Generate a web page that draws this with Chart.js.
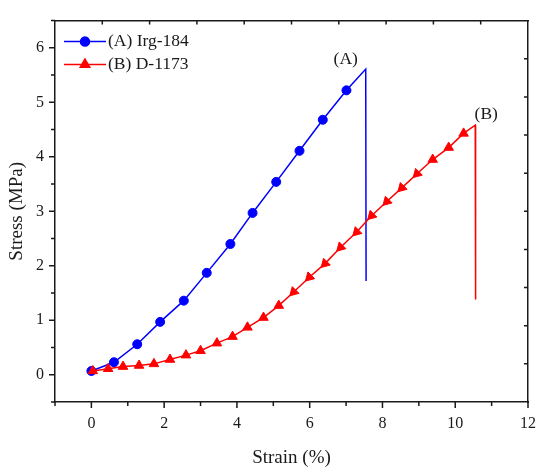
<!DOCTYPE html>
<html>
<head>
<meta charset="utf-8">
<script src="https://cdn.jsdelivr.net/npm/chart.js@4.4.1/dist/chart.umd.min.js"></script>
<style>
html,body{margin:0;padding:0;background:#fff;}
#wrap{width:550px;height:473px;position:relative;}
</style>
</head>
<body>
<div id="wrap"><canvas id="c"></canvas></div>
<script>
// ---- data ----
const strainA = [0, 0.62, 1.26, 1.89, 2.54, 3.17, 3.82, 4.43, 5.08, 5.72, 6.36, 7.01, 7.54, 7.55];
const stressA = [0.07, 0.23, 0.56, 0.97, 1.36, 1.87, 2.40, 2.97, 3.54, 4.11, 4.68, 5.22, 5.61, 1.72];
const strainB = [0.04, 0.46, 0.87, 1.31, 1.72, 2.16, 2.60, 3.00, 3.45, 3.88, 4.29, 4.73, 5.15, 5.56, 5.99, 6.42, 6.85, 7.29, 7.70, 8.12, 8.53, 8.95, 9.38, 9.82, 10.23, 10.55, 10.56];
const stressB = [0.07, 0.11, 0.15, 0.17, 0.20, 0.28, 0.36, 0.44, 0.58, 0.70, 0.87, 1.05, 1.27, 1.52, 1.79, 2.04, 2.34, 2.62, 2.92, 3.18, 3.43, 3.69, 3.95, 4.17, 4.43, 4.58, 1.38];
const seriesLabels = ['(A) Irg-184', '(B) D-1173'];
const peakLabels = ['(A)', '(B)'];
const xTitle = 'Strain (%)';
const yTitle = 'Stress (MPa)';

const FONT = 'Liberation Serif';
const INK = '#1a1a1a';
const BLUE = '#0000ff';
const RED = '#ff0000';

function pts(xs, ys){ return xs.map((x,i)=>({x:x, y:ys[i]})); }

function triRotation(ctx){
  const i = ctx.dataIndex, ch = ctx.chart;
  const xs = ch.scales.x, ys = ch.scales.y;
  if (!xs || !ys) return 0;
  const i0 = Math.max(0, i-1), i1 = Math.min(strainB.length-1, i+1);
  const dx = xs.getPixelForValue(strainB[i1]) - xs.getPixelForValue(strainB[i0]);
  const dy = ys.getPixelForValue(stressB[i0]) - ys.getPixelForValue(stressB[i1]);
  const ang = Math.atan2(dy, dx) * 180 / Math.PI;
  return ang > 42 ? 225 : 0;
}

const frame = {
  id: 'frame',
  afterDraw(chart){
    const c = chart.ctx, ca = chart.chartArea;
    const sx = chart.scales.x, sy = chart.scales.y, sx2 = chart.scales.x2, sy2 = chart.scales.y2;
    c.save();
    c.strokeStyle = INK; c.lineWidth = 1.5;
    c.beginPath();
    sx.ticks.forEach(t => {
      const p = sx.getPixelForValue(t.value);
      const len = t.label !== '' ? 6 : 4;
      c.moveTo(p, ca.bottom); c.lineTo(p, ca.bottom + len);
    });
    sy.ticks.forEach(t => {
      const p = sy.getPixelForValue(t.value);
      const len = t.label !== '' ? 6 : 4;
      c.moveTo(ca.left, p); c.lineTo(ca.left - len, p);
    });
    sx2.ticks.forEach(t => {
      if (t.value === sx2.min || t.value === sx2.max) return;
      const p = sx2.getPixelForValue(t.value);
      c.moveTo(p, ca.top); c.lineTo(p, ca.top + 4);
    });
    sy2.ticks.forEach(t => {
      if (t.value === sy2.min || t.value === sy2.max) return;
      const p = sy2.getPixelForValue(t.value);
      c.moveTo(ca.right, p); c.lineTo(ca.right - 4, p);
    });
    c.stroke();

    // peak labels
    c.fillStyle = INK;
    c.font = '17.5px "' + FONT + '"';
    c.textAlign = 'center'; c.textBaseline = 'middle';
    const pa = chart.getDatasetMeta(0).data[strainA.length-2];
    const pb = chart.getDatasetMeta(1).data[strainB.length-2];
    c.fillText(peakLabels[0], pa.x - 20, pa.y - 10);
    c.fillText(peakLabels[1], pb.x + 11, pb.y - 11);

    // legend
    const rows = [
      {label: seriesLabels[0], color: BLUE, style: 'circle', r: 4.5},
      {label: seriesLabels[1], color: RED, style: 'triangle', r: 5.5}
    ];
    rows.forEach((row, k) => {
      const y = ca.top + 21 + k * 23;
      const x0 = ca.left + 9, x1 = ca.left + 51;
      c.strokeStyle = row.color; c.lineWidth = 1.5;
      c.beginPath(); c.moveTo(x0, y); c.lineTo(x1, y); c.stroke();
      c.fillStyle = row.color;
      Chart.helpers.drawPoint(c, {pointStyle: row.style, radius: row.r, rotation: 0, borderWidth: 1}, (x0+x1)/2, y);
      c.fill();
      c.fillStyle = INK; c.textAlign = 'left';
      c.fillText(row.label, x1 + 2, y);
    });
    c.restore();
  }
};

new Chart(document.getElementById('c'), {
  type: 'scatter',
  data: {
    datasets: [
      {
        label: seriesLabels[0],
        data: pts(strainA, stressA),
        showLine: true, tension: 0,
        borderColor: BLUE, backgroundColor: BLUE, borderWidth: 1.5,
        pointStyle: 'circle',
        pointRadius: ctx => ctx.dataIndex < strainA.length - 2 ? 4.5 : 0,
        pointBorderWidth: 1,
        order: 2
      },
      {
        label: seriesLabels[1],
        data: pts(strainB, stressB),
        showLine: true, tension: 0,
        borderColor: RED, backgroundColor: RED, borderWidth: 1.5,
        pointStyle: 'triangle',
        pointRadius: ctx => ctx.dataIndex < strainB.length - 2 ? 5.5 : 0,
        pointRotation: triRotation,
        pointBorderWidth: 1,
        order: 1
      }
    ]
  },
  options: {
    responsive: true, maintainAspectRatio: false, animation: false,
    layout: {padding: 0},
    plugins: {legend: {display: false}, tooltip: {enabled: false}},
    scales: {
      x: {
        type: 'linear', position: 'bottom', min: -1, max: 12,
        afterFit: s => { s.height = 71; },
        grid: {display: false, drawTicks: false},
        border: {display: true, color: INK, width: 1.5},
        ticks: {stepSize: 1, autoSkip: false, maxRotation: 0, padding: 12,
          color: INK, font: {family: FONT, size: 16},
          callback: v => (Math.round(v) % 2 === 0 ? String(v) : '')},
        title: {display: true, text: xTitle, color: INK, font: {family: FONT, size: 19}, padding: {top: 0, bottom: 4}}
      },
      y: {
        type: 'linear', position: 'left', min: -0.5, max: 6.5,
        afterFit: s => { s.width = 55; },
        grid: {display: false, drawTicks: false},
        border: {display: true, color: INK, width: 1.5},
        ticks: {stepSize: 0.5, autoSkip: false, padding: 11,
          color: INK, font: {family: FONT, size: 16},
          callback: v => (Number.isInteger(v) ? String(v) : '')},
        title: {display: true, text: yTitle, color: INK, font: {family: FONT, size: 19}, padding: {top: 6, bottom: 0}}
      },
      x2: {
        type: 'linear', position: 'top', min: 0, max: 10,
        afterFit: s => { s.height = 13; },
        grid: {display: false, drawTicks: false},
        border: {display: true, color: INK, width: 1.5},
        ticks: {display: false, stepSize: 1, autoSkip: false}
      },
      y2: {
        type: 'linear', position: 'right', min: 0, max: 10,
        afterFit: s => { s.width = 22; },
        grid: {display: false, drawTicks: false},
        border: {display: true, color: INK, width: 1.5},
        ticks: {display: false, stepSize: 1, autoSkip: false}
      }
    }
  },
  plugins: [frame]
});
</script>
</body>
</html>
